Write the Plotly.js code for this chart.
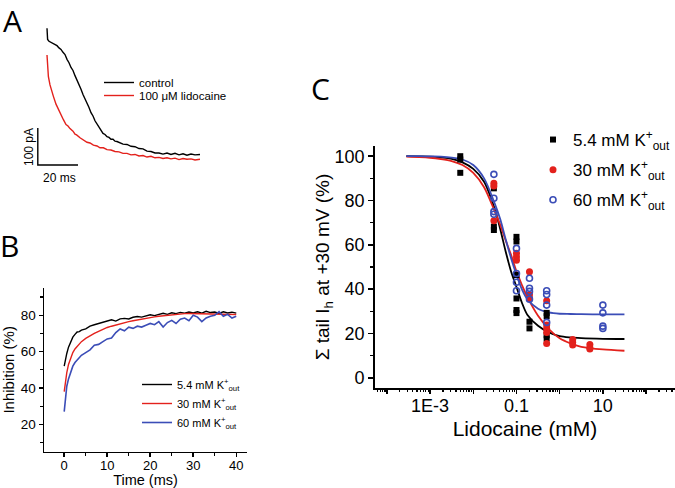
<!DOCTYPE html>
<html><head><meta charset="utf-8">
<script src="https://cdn.plot.ly/plotly-3.0.1.min.js"></script>
<style>html,body{margin:0;padding:0;background:#fff}#chart{width:675px;height:488px}</style>
</head><body><div id="chart"></div>
<script>
// ---------- Panel A : current traces (ms, pA) ----------
const ctrlTime = [0,0.3,1,2,3,4,5,6,7,8,9,10,11,12,13,14,15,16,17,18,19,20,21,22,23,24,25,26,27,28,29,30,31,32,33,34,35,36,37,38,40,42,44,46,48,50,52,54,56,58,60,62,64,66,68,70,72,74,76.5];
const ctrlCurr = [356,326,321,318,315,310,309,303,299,291,285,272,263,250,242,228,217,203,191,177,166,152,142,128,119,106,98,87,81,72,69,63,61,56,56,51,50,47,46,43,42,37,36,31,30,24,23,19,19,16,19,15,18,14,17,13,16,14,15];
const lidoTime = [0,0.3,0.7,1.5,2.3,3.2,4.5,5.7,7,8.2,9.5,10.5,11.5,13,14,14.8,16.5,18.2,20,21.5,23.2,25,26.5,28.2,30,32,34,36,38,40,42,44,46,48,50,52,54,56,58,60,62,64,66,68,70,72,74,76.5];
const lidoCurr = [284,252,225,203,185,172,151,136,119,109,96,92,85,78,70,68,60,55,48,46,40,38,33,33,28,27,23,22,18,18,14,15,11,12,8,10,6,7,4,6,3,5,1,4,2,3,0,2];
const scaleBarT = [-4.6,-4.6,15.5];
const scaleBarI = [86.5,-13.5,-13.5];

// ---------- Panel B : inhibition vs time ----------
const timeB = [0,0.3,0.6,1,1.5,2,2.5,3,3.5,4,5,6,7,8,9,10,11,12,13,14,15,16,17,18,19,20,21,22,23,24,25,26,27,28,29,30,31,32,33,34,35,36,37,38,39,40];
const inhib54 = [52,56,59,62.5,65.5,68,69.5,70.8,71,71.8,72.5,74,74.8,75.5,76.4,77,77.5,76.8,78,78.3,78,78.9,79.3,79,79.6,80.3,79.8,80.6,81.1,80.5,81.4,80.9,81.6,81.2,81.8,81.3,81.9,81.2,82.2,81.5,81.8,81,81.9,81.3,81.7,81.2];
const inhib30 = [38,44,48.5,53,56.5,59.5,61.5,63,64.5,65.5,67.3,68.8,70,71.2,72.3,73.3,74,74.7,75.3,75.9,76.5,77,77.5,77.9,78.3,78.8,79.1,79.5,79.8,80.1,80.4,80.6,80.8,80.9,81,81,81,81,80.9,80.8,80.8,80.7,80.6,80.5,80.5,80.4];
const inhib60 = [27,36,41,45,49,52,54,55.5,56.5,58,59.5,61,63.5,64,65.5,67,67.5,70.5,72.5,71.5,73.5,72.8,74,73.5,74.5,75.5,74.8,76.5,73.5,76,77.2,75.5,77.8,78.5,77,80,79,76.5,78.5,79.5,80,82,79.5,80.5,78.5,79.5];

// ---------- Panel C : dose response ----------
const conc54 = [0.005,0.005,0.005,0.03,0.03,0.03,0.1,0.1,0.1,0.1,0.1,0.1,0.2,0.2,0.5,0.5,0.5,0.5];
const resp54 = [100,98.5,92.5,85.5,68.2,66.7,63.6,61.5,46.4,35.8,30.6,29.2,25.3,22.3,29.3,27.8,19.2,17.7];
const conc30 = [0.03,0.03,0.03,0.1,0.1,0.1,0.2,0.2,0.2,0.5,0.5,0.5,0.5,0.5,2,2,2,5,5,5];
const resp30 = [87.8,86.6,70.9,56.2,54.6,53.1,47.9,37.5,35.8,34.8,23.8,22.3,20.5,15.5,17.3,16,14.8,15,13.6,13];
const conc60 = [0.03,0.03,0.03,0.03,0.1,0.1,0.1,0.1,0.2,0.2,0.2,0.2,0.5,0.5,0.5,0.5,10,10,10,10];
const resp60 = [91.8,81,75,73.8,58.4,47.1,43.1,39.3,44.9,40.4,39,35.5,39.3,37.6,32.8,25,32.8,29.3,23.3,22.3];
const fitConc  = [0.000282,0.000562,0.001,0.00178,0.00316,0.00562,0.01,0.0178,0.0316,0.0422,0.0562,0.075,0.1,0.133,0.178,0.316,0.562,1,1.78,3.16,10,31.6];
const fitResp54 = [100,99.9,99.8,99.4,98.8,97.2,94.3,88.5,76,67,57,48,41,34,28.5,23.5,20.5,18.8,18.2,17.9,17.6,17.5];
const fitResp30 = [99.8,99.6,99.3,98.7,97.8,96,92.5,86,75,69,62,55.5,48,42,36.5,28,22,17.8,15.5,14,12.8,12.2];
const fitResp60 = [100,100,99.9,99.8,99.4,98.5,96,90,78.5,71.5,62.5,54,46.5,40,35.5,31.2,29.5,28.9,28.8,28.7,28.6,28.6];
const cTickVals = [1e-4,1e-3,1e-2,0.1,1,10,100];
const cTickText = ['','1E-3','','0.1','','10',''];

const seriesNames = ['5.4 mM K<sup>+</sup><sub>out</sub>','30 mM K<sup>+</sup><sub>out</sub>','60 mM K<sup>+</sup><sub>out</sub>'];
const BLACK='#000000', RED='#e3211c', BLUE='#3b4db7';
const FONT='Liberation Sans, Arial, sans-serif';
const W=675, H=488;
const px = x => x/W, py = y => 1 - y/H;

// minor log ticks for panel C
const cMinor = [];
for (let e=-5; e<=2; e++) for (let d=2; d<=9; d++) cMinor.push(d*Math.pow(10,e));

const traces = [
  // Panel A
  {x:ctrlTime,y:ctrlCurr,xaxis:'x',yaxis:'y',mode:'lines',line:{color:BLACK,width:1.4},name:'control',legend:'legend2'},
  {x:lidoTime,y:lidoCurr,xaxis:'x',yaxis:'y',mode:'lines',line:{color:RED,width:1.4},name:'100 \u03bcM lidocaine',legend:'legend4'},
  {x:scaleBarT,y:scaleBarI,xaxis:'x',yaxis:'y',mode:'lines',line:{color:BLACK,width:1.4},showlegend:false,hoverinfo:'skip'},
  // Panel B
  {x:timeB,y:inhib54,xaxis:'x2',yaxis:'y2',mode:'lines',line:{color:BLACK,width:1.4},name:seriesNames[0],legend:'legend3'},
  {x:timeB,y:inhib30,xaxis:'x2',yaxis:'y2',mode:'lines',line:{color:RED,width:1.4},name:seriesNames[1],legend:'legend3'},
  {x:timeB,y:inhib60,xaxis:'x2',yaxis:'y2',mode:'lines',line:{color:BLUE,width:1.6},name:seriesNames[2],legend:'legend3'},
  // Panel C fits
  {x:fitConc,y:fitResp54,xaxis:'x3',yaxis:'y3',mode:'lines',line:{color:BLACK,width:1.8,shape:'spline',smoothing:0.8},showlegend:false},
  {x:fitConc,y:fitResp30,xaxis:'x3',yaxis:'y3',mode:'lines',line:{color:RED,width:1.8,shape:'spline',smoothing:0.8},showlegend:false},
  {x:fitConc,y:fitResp60,xaxis:'x3',yaxis:'y3',mode:'lines',line:{color:BLUE,width:1.8,shape:'spline',smoothing:0.8},showlegend:false},
  // Panel C points
  {x:conc54,y:resp54,xaxis:'x3',yaxis:'y3',mode:'markers',marker:{symbol:'square',size:6,color:BLACK},name:seriesNames[0],legend:'legend',legendgroup:'g1'},
  {x:conc30,y:resp30,xaxis:'x3',yaxis:'y3',mode:'markers',marker:{symbol:'circle',size:7,color:RED},name:seriesNames[1],legend:'legend',legendgroup:'g2'},
  {x:conc60,y:resp60,xaxis:'x3',yaxis:'y3',mode:'markers',marker:{symbol:'circle-open',size:6,color:BLUE,line:{width:1.6,color:BLUE}},name:seriesNames[2],legend:'legend',legendgroup:'g3'}
];

const axB = {showline:true,linecolor:BLACK,linewidth:1.5,ticks:'outside',ticklen:4,tickwidth:1.5,tickcolor:BLACK,
  showgrid:false,zeroline:false,tickfont:{family:FONT,size:13.5,color:BLACK}};
const axC = {showline:true,linecolor:BLACK,linewidth:1.8,ticks:'outside',ticklen:5,tickwidth:1.5,tickcolor:BLACK,
  showgrid:false,zeroline:false,tickfont:{family:FONT,size:18,color:BLACK}};
const ann = (text,x,y,size,fam,extra) => Object.assign({text:text,x:px(x),y:py(y),xref:'paper',yref:'paper',showarrow:false,
  xanchor:'center',yanchor:'middle',borderpad:0,font:{family:fam,size:size,color:BLACK}},extra||{});
const LETTER='Open Sans, sans-serif';

const layout = {
  width:W,height:H,margin:{l:0,r:0,t:0,b:0},paper_bgcolor:'#fff',plot_bgcolor:'rgba(0,0,0,0)',
  font:{family:FONT,color:BLACK},
  xaxis:{domain:[px(30),px(210)],range:[-8.5,81.5],visible:false,anchor:'y',fixedrange:true},
  yaxis:{domain:[py(175),py(20)],range:[-40.5,378.4],visible:false,anchor:'x',fixedrange:true},
  xaxis2:Object.assign({},axB,{domain:[px(44),px(247)],range:[-4.7,42.5],anchor:'y2',tick0:0,dtick:10,
    ticklabelstandoff:-3,tickfont:{family:FONT,size:13,color:BLACK},
    minor:{dtick:5,ticks:'outside',ticklen:2.5,tickwidth:1.2,tickcolor:BLACK},
    title:{text:'Time (ms)',font:{family:FONT,size:14.5},standoff:5}}),
  yaxis2:Object.assign({},axB,{domain:[py(451.7),py(288)],range:[5,95],anchor:'x2',tick0:0,dtick:20,
    minor:{dtick:10,ticks:'outside',ticklen:2.5,tickwidth:1.2,tickcolor:BLACK},
    title:{text:'Inhibition (%)',font:{family:FONT,size:15},standoff:6}}),
  xaxis3:Object.assign({},axC,{type:'log',domain:[px(375),1],range:[-4.275,2.67],anchor:'y3',
    tickmode:'array',tickvals:cTickVals,ticktext:cTickText,ticklen:4,ticklabelstandoff:-3,
    minor:{tickmode:'array',tickvals:cMinor,ticks:'outside',ticklen:2,tickwidth:1.2,tickcolor:BLACK},
    title:{text:'Lidocaine (mM)',font:{family:FONT,size:21},standoff:6}}),
  yaxis3:Object.assign({},axC,{domain:[py(388),py(146)],range:[-4.6,104.6],anchor:'x3',tick0:0,dtick:20,
    minor:{dtick:10,ticks:'outside',ticklen:3,tickwidth:1.2,tickcolor:BLACK},
    title:{text:'\u03a3 tail I<sub>h</sub> at +30 mV (%)',font:{family:FONT,size:19},standoff:0}}),
  legend:{x:px(533),y:py(122),xanchor:'left',yanchor:'top',bgcolor:'rgba(0,0,0,0)',font:{family:FONT,size:17,color:BLACK},
    traceorder:'grouped',tracegroupgap:5},
  legend2:{x:px(99),y:py(68),xanchor:'left',yanchor:'top',bgcolor:'rgba(0,0,0,0)',font:{family:FONT,size:11.5,color:BLACK}},
  legend4:{x:px(99),y:py(81),xanchor:'left',yanchor:'top',bgcolor:'rgba(0,0,0,0)',font:{family:FONT,size:11.5,color:BLACK}},
  legend3:{x:px(137),y:py(370),xanchor:'left',yanchor:'top',bgcolor:'rgba(0,0,0,0)',font:{family:FONT,size:11,color:BLACK}},
  annotations:[
    ann('A',12.5,20,30,LETTER),
    ann('B',9,245,30,LETTER),
    ann('C',320,89,30,LETTER),
    ann('100 pA',29,147,12,FONT,{textangle:-90}),
    ann('20 ms',59,178,12,FONT)
  ]
};

Plotly.newPlot('chart',traces,layout,{staticPlot:true,displayModeBar:false});
</script></body></html>
